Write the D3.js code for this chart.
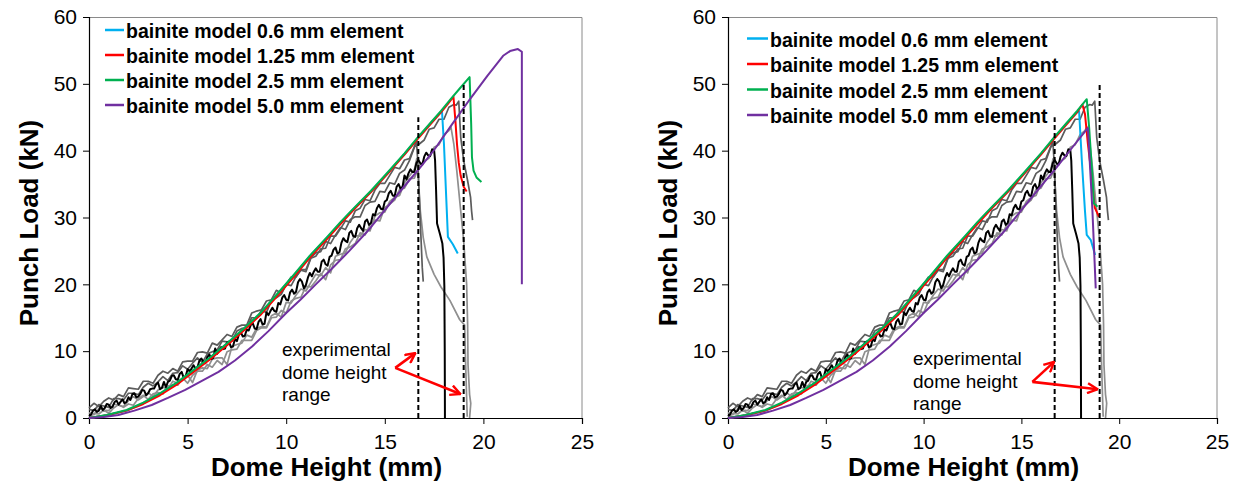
<!DOCTYPE html>
<html>
<head>
<meta charset="utf-8">
<script src="https://cdn.jsdelivr.net/npm/d3@7"></script>
<style>
  body { margin: 0; background: #fff; }
  svg text { font-family: Arial, "Liberation Sans", sans-serif; fill: #000; }
</style>
</head>
<body>
<svg id="chart" width="1241" height="485"></svg>
<script>
// ---- axis ticks ----
const heightTicks = [0, 5, 10, 15, 20, 25];
const loadTicks = [0, 10, 20, 30, 40, 50, 60];

// ---- legend ----
const legendLabels = [
  "bainite model 0.6 mm element",
  "bainite model 1.25 mm element",
  "bainite model 2.5 mm element",
  "bainite model 5.0 mm element"
];
const legendColors = ["#00b0f0", "#ff0000", "#00b050", "#7030a0"];

// ---- experimental dome height range (mm) and line tops (kN) ----
const rangeHeights = [16.7, 19.0];
const rangeTops = [45, 50];
const noteLines = ["experimental", "dome height", "range"];

// ---- experimental punch traces ----
// loading part sampled at a fixed height step, then the failure part as [height, load]
const testBlackStep = 0.1;
const testBlackLoad = [0.3,0.5,1.1,1.3,0.9,1.1,1.8,1.2,1.5,2.1,
  2.0,1.5,1.7,2.4,2.6,2.0,2.4,2.8,2.2,2.4,
  3.1,2.7,3.6,3.7,3.1,3.2,3.6,4.2,4.1,3.4,
  3.7,4.3,4.4,4.4,5.0,5.3,4.3,4.5,5.4,4.6,
  5.4,5.6,6.3,6.4,5.8,5.7,6.6,6.9,6.0,6.2,
  7.3,7.0,7.4,7.9,7.4,7.6,8.6,8.9,8.4,8.2,
  9.1,9.5,8.8,9.0,10.4,9.6,10.2,10.6,10.3,10.4,
  11.3,11.4,10.6,10.7,11.8,11.5,12.5,12.8,12.2,12.3,
  13.2,13.1,13.9,14.2,13.4,13.3,14.4,14.8,14.0,14.1,
  15.8,15.4,16.0,16.5,16.0,15.9,17.2,17.0,18.0,18.4,
  17.7,17.6,18.8,19.2,18.6,18.9,20.3,20.8,20.4,19.4,
  19.9,21.0,21.7,21.2,21.9,22.4,21.9,21.9,23.4,23.7,
  23.0,22.8,24.1,24.3,25.2,25.5,24.6,24.8,26.2,26.9,
  26.5,26.3,27.7,28.0,27.2,27.1,28.4,28.9,28.4,28.0,
  29.4,29.7,28.9,29.2,30.5,30.3,31.4,31.9,31.3,31.2,
  32.4,32.6,33.6,34.0,33.3,33.2,34.6,35.0,34.3,34.6,
  36.3,35.7,36.6,37.2,36.8,36.8,38.1,38.6,38.1,37.9,
  39.1,39.7,39.3,39.2,40.2];
const testBlackTail = [[17.5,40.1],[17.55,38.5],[17.6,34.1],[17.65,29.1],[17.8,27.5],[17.92,26.1],[17.98,24],[18.02,19.7],[18.04,10],[18.05,0]];

const testGreyStep = 0.25;
const testALoad = [1.5,2.2,1.7,2.5,3.0,2.7,3.5,3.2,4.5,4.4,
  4.3,5.5,5.5,5.2,6.4,7.0,6.7,7.4,7.0,8.4,
  8.5,8.5,9.8,9.9,9.7,11.2,10.9,11.7,12.5,12.2,
  13.6,13.9,13.9,15.7,16.0,16.2,17.5,17.7,19.1,18.7,
  20.0,21.1,21.1,22.2,22.2,24.0,24.7,24.9,26.4,26.1,
  27.4,28.5,28.2,29.7,30.1,30.1,31.8,32.3,32.4,33.9,
  33.8,35.2,35.0,36.6,37.1,38.5,40.5];
const testATail = [[16.6,41.7],[16.68,38],[16.75,33],[16.82,28],[16.9,22.5],[16.95,20.4]];

const testBLoad = [0.8,0.5,1.4,1.2,1.1,2.1,1.9,1.7,2.6,3.2,
  2.7,3.2,3.8,3.2,4.2,4.6,4.3,5.5,5.2,5.9,
  6.4,5.3,7.2,7.5,7.4,8.8,9.0,9.0,8.0,10.7,
  11.0,11.2,12.4,12.1,13.4,13.7,13.6,15.3,15.7,15.1,
  17.3,17.2,18.4,19.3,19.0,20.3,21.5,21.3,22.5,21.7,
  24.2,24.5,24.7,26.3,27.3,27.2,28.2,28.0,30.2,30.7,
  30.8,32.4,33.0,33.3,35.2,36.2,37.2];
const testBTail = [[16.62,38.8],[16.7,36],[16.8,31],[16.95,27],[17.13,24.1],[17.5,21.5],[17.85,19.6],[18.3,17.6],[18.8,14.7],[19.05,13.9],[19.1,8],[19.15,3],[19.18,0.2]];

const testCLoad = [1.3,1.1,2.0,1.8,1.6,2.9,2.9,2.7,3.7,3.7,
  3.5,4.6,5.2,4.8,5.4,6.2,5.6,6.7,6.8,7.8,
  7.3,8.2,9.0,8.3,9.6,9.9,10.2,11.5,11.4,11.5,
  13.0,13.4,13.5,15.0,15.0,16.1,15.8,17.6,18.0,18.5,
  20.0,19.8,21.2,22.1,21.9,23.9,24.2,25.3,25.4,27.2,
  27.2,28.3,29.5,29.3,31.0,31.4,32.7,32.5,34.1,35.1,
  35.1,36.3,37.5,37.3,38.6,38.8,40.6,41.0,41.6,43.2,
  43.4,44.7,44.7,46.5,46.9];
const testCTail = [[18.62,46.8],[18.75,47.4],[18.85,42],[19.0,38.5],[19.2,35.5],[19.35,33],[19.4,31],[19.45,29.6]];

const testDLoad = [0.0,0.7,0.6,1.2,0.7,1.5,2.0,1.6,2.1,1.9,
  2.9,3.4,2.8,3.6,3.8,3.6,4.8,4.9,4.9,6.0,
  5.2,6.4,7.0,7.0,8.0,7.6,8.6,8.0,9.9,10.2,
  10.3,11.6,11.6,11.6,13.1,13.5,13.5,15.0,15.1,16.1,
  15.7,17.5,17.9,18.1,19.7,19.6,20.5,21.6,20.7,22.9,
  23.6,23.7,25.3,25.6,26.1,27.7,27.4,28.9,29.6,29.5,
  31.5,32.0,32.6,34.2,34.4,35.8,35.9,37.8,38.4,38.9,
  40.5,40.9,42.4,43.0];
const testDTail = [[18.35,43.6],[18.5,41],[18.65,37],[18.85,31],[19.0,26.5],[19.15,20],[19.2,14],[19.22,8],[19.3,3.5],[19.36,2.2],[19.3,0]];

// ---- model predictions: loading branch shared by both panels ----
const model06Rise = [[0,0],[0.9,0.4],[1.91,1.1],[2.75,2.2],[3.6,3.6],[4.45,5.2],[5.3,7.1],[6.15,9.0],[7.0,11.1],[7.85,13.3],[8.69,15.6],[9.5,18.3],[10.38,21.3],[11.2,24.2],[12.08,27.0],[12.75,29.2],[13.43,31.3],[14.3,33.9],[15.13,36.6],[16.0,39.5],[16.65,41.8],[17.3,44.0],[17.84,45.8]];
const model125Rise = [[0,0],[0.9,0.4],[1.91,1.1],[2.75,2.1],[3.6,3.4],[4.45,5.0],[5.3,6.9],[6.15,8.8],[7.0,10.9],[7.85,13.1],[8.69,15.4],[9.5,18.1],[10.38,21.1],[11.2,24.0],[12.08,26.8],[12.75,29.0],[13.43,31.2],[14.3,33.8],[15.13,36.5],[16.0,39.4],[16.65,41.7],[17.3,43.9],[17.84,45.7]];
const model25Rise = [[0,0],[0.9,0.45],[1.91,1.2],[2.75,2.3],[3.6,3.7],[4.45,5.3],[5.3,7.2],[6.15,9.1],[7.0,11.2],[7.85,13.4],[8.69,15.7],[9.5,18.4],[10.38,21.4],[11.2,24.3],[12.08,27.1],[12.75,29.3],[13.43,31.4],[14.3,34.0],[15.13,36.7],[16.0,39.6],[16.65,41.9],[17.3,44.1],[17.84,45.9]];
const model50Rise = [[0,0],[0.75,0.15],[1.49,0.45],[2.3,1.1],[3.18,1.95],[4.0,3.0],[4.88,4.2],[5.7,5.5],[6.57,6.9],[7.4,8.6],[8.27,10.7],[9.1,13.0],[10.0,15.7],[10.72,17.7],[11.5,20.0],[12.4,22.6],[13.2,25.0],[14.11,27.9],[15.0,31.1],[15.97,34.6],[16.8,37.5],[17.5,40.1]];

// left panel: failure branches
const leftModel06Tail = [[17.9,45.9],[18.0,41],[18.1,34],[18.2,27.1],[18.45,26],[18.7,24.6]];
const leftModel125Tail = [[18.2,47.0],[18.48,48.1],[18.58,44.5],[18.66,41],[18.75,38.2],[18.85,36.2],[19.0,34.6],[19.15,33.9]];
const leftModel25Tail = [[18.34,47.7],[18.8,49.3],[19.3,51.0],[19.38,44],[19.42,39],[19.5,37],[19.65,36],[19.9,35.3]];
const leftModel50Tail = [[18.4,43.9],[19.34,47.8],[20.2,51.2],[21.0,54.2],[21.35,54.9],[21.75,55.2],[21.95,54.8],[21.95,20.0]];

// right panel: failure branches
const rightModel06Tail = [[17.95,45.9],[18.1,38],[18.25,31],[18.34,27.4],[18.55,26.6],[18.77,24.4]];
const rightModel125Tail = [[18.12,46.9],[18.25,45.5],[18.4,41],[18.6,36],[18.75,31.5],[18.97,30.1]];
const rightModel25Tail = [[18.34,47.7],[18.46,43.6],[18.63,36.1],[18.71,32.1],[18.89,31.6]];
const rightModel50Tail = [[18.4,43.4],[18.52,37],[18.63,31.1],[18.8,19.4]];

// ---- build series ----
function sampled(loads, step, tail) {
  return loads.map((v, i) => [+(i * step).toFixed(3), v]).concat(tail);
}
const experimental = [
  { pts: sampled(testBLoad, testGreyStep, testBTail), color: "#8f8f8f", width: 1.7 },
  { pts: sampled(testDLoad, testGreyStep, testDTail), color: "#8f8f8f", width: 1.7 },
  { pts: sampled(testALoad, testGreyStep, testATail), color: "#5c5c5c", width: 1.7 },
  { pts: sampled(testCLoad, testGreyStep, testCTail), color: "#5c5c5c", width: 1.7 },
  { pts: sampled(testBlackLoad, testBlackStep, testBlackTail), color: "#000000", width: 2 }
];
const leftModels = [
  model06Rise.concat(leftModel06Tail),
  model125Rise.concat(leftModel125Tail),
  model25Rise.concat(leftModel25Tail),
  model50Rise.concat(leftModel50Tail)
];
const rightModels = [
  model06Rise.concat(rightModel06Tail),
  model125Rise.concat(rightModel125Tail),
  model25Rise.concat(rightModel25Tail),
  model50Rise.concat(rightModel50Tail)
];

const svg = d3.select("#chart");
const defs = svg.append("defs");
defs.append("marker")
  .attr("id", "arrowHead")
  .attr("markerUnits", "userSpaceOnUse")
  .attr("viewBox", "0 0 12 12")
  .attr("refX", 11).attr("refY", 6)
  .attr("markerWidth", 12).attr("markerHeight", 12)
  .attr("orient", "auto")
  .append("path")
  .attr("d", "M1,1 L11,6 L1,11")
  .attr("fill", "none")
  .attr("stroke", "#ff0000")
  .attr("stroke-width", 2.4);

function drawPanel(cfg) {
  const x = d3.scaleLinear().domain([0, 25]).range([cfg.left, cfg.right]);
  const y = d3.scaleLinear().domain([0, 60]).range([418, 17]);
  const g = svg.append("g");

  // plot frame (top / right)
  g.append("path")
    .attr("d", `M${cfg.left},17.5 H${cfg.right} V418`)
    .attr("fill", "none").attr("stroke", "#8a8a8a").attr("stroke-width", 1);

  // axes
  const xAxis = d3.axisBottom(x).tickValues(heightTicks).tickSize(6).tickPadding(6).tickFormat(d3.format("d"));
  const yAxis = d3.axisLeft(y).tickValues(loadTicks).tickSize(6).tickPadding(6).tickFormat(d3.format("d"));
  const gx = g.append("g").attr("transform", "translate(0,418)").call(xAxis);
  const gy = g.append("g").attr("transform", `translate(${cfg.left},0)`).call(yAxis);
  [gx, gy].forEach(a => {
    a.select(".domain").attr("stroke", "#000").attr("stroke-width", 1.2);
    a.selectAll(".tick line").attr("stroke", "#000");
    a.selectAll("text").attr("font-size", 21).attr("fill", "#000")
      .attr("font-family", "Arial, 'Liberation Sans', sans-serif");
  });
  gx.selectAll("text").attr("dy", "0.9em");

  // axis titles
  g.append("text")
    .attr("x", (cfg.left + cfg.right) / 2 - 9)
    .attr("y", 476)
    .attr("text-anchor", "middle")
    .attr("font-size", 26).attr("font-weight", "bold")
    .text("Dome Height (mm)");
  g.append("text")
    .attr("transform", `translate(${cfg.left - 51},223) rotate(-90)`)
    .attr("text-anchor", "middle")
    .attr("font-size", 26).attr("font-weight", "bold")
    .text("Punch Load (kN)");

  const line = d3.line().x(d => x(d[0])).y(d => y(d[1]));

  // experimental traces
  g.append("g").selectAll("path").data(experimental).join("path")
    .attr("d", d => line(d.pts))
    .attr("fill", "none")
    .attr("stroke", d => d.color)
    .attr("stroke-width", d => d.width)
    .attr("stroke-linejoin", "round");

  // model predictions
  g.append("g").selectAll("path").data(cfg.models).join("path")
    .attr("d", d => line(d))
    .attr("fill", "none")
    .attr("stroke", (d, i) => legendColors[i])
    .attr("stroke-width", 2)
    .attr("stroke-linejoin", "round");

  // experimental dome height range
  g.append("g").selectAll("line").data(rangeHeights).join("line")
    .attr("x1", d => x(d)).attr("x2", d => x(d))
    .attr("y1", y(0)).attr("y2", (d, i) => y(rangeTops[i]))
    .attr("stroke", "#000").attr("stroke-width", 2)
    .attr("stroke-dasharray", "5,3");

  // note and arrows
  g.append("g").selectAll("text").data(noteLines).join("text")
    .attr("x", cfg.noteX)
    .attr("y", (d, i) => cfg.noteY + i * 22.5)
    .attr("font-size", 19)
    .text(d => d);
  cfg.arrowTips.forEach(t => {
    g.append("line")
      .attr("x1", x(cfg.arrowFrom[0])).attr("y1", y(cfg.arrowFrom[1]))
      .attr("x2", x(t[0])).attr("y2", y(t[1]))
      .attr("stroke", "#ff0000").attr("stroke-width", 2.6)
      .attr("marker-end", "url(#arrowHead)");
  });

  // legend
  const lg = g.append("g");
  legendLabels.forEach((label, i) => {
    const ly = cfg.legendY + i * cfg.legendGap;
    lg.append("line")
      .attr("x1", cfg.legendX).attr("x2", cfg.legendX + cfg.legendLen)
      .attr("y1", ly).attr("y2", ly)
      .attr("stroke", legendColors[i]).attr("stroke-width", 2.5);
    lg.append("text")
      .attr("x", cfg.legendX + cfg.legendLen + 2)
      .attr("y", ly + 8)
      .attr("font-size", 19.5).attr("font-weight", "bold")
      .text(label);
  });
}

drawPanel({
  left: 89, right: 582, models: leftModels,
  noteX: 282, noteY: 356,
  arrowFrom: [15.53, 7.5], arrowTips: [[16.55, 9.7], [18.83, 3.6]],
  legendX: 105, legendLen: 19, legendY: 30, legendGap: 25
});
drawPanel({
  left: 728, right: 1217, models: rightModels,
  noteX: 913, noteY: 365,
  arrowFrom: [15.56, 5.4], arrowTips: [[16.67, 8.4], [18.89, 4.3]],
  legendX: 747, legendLen: 21, legendY: 38.5, legendGap: 25.5
});
</script>
</body>
</html>
